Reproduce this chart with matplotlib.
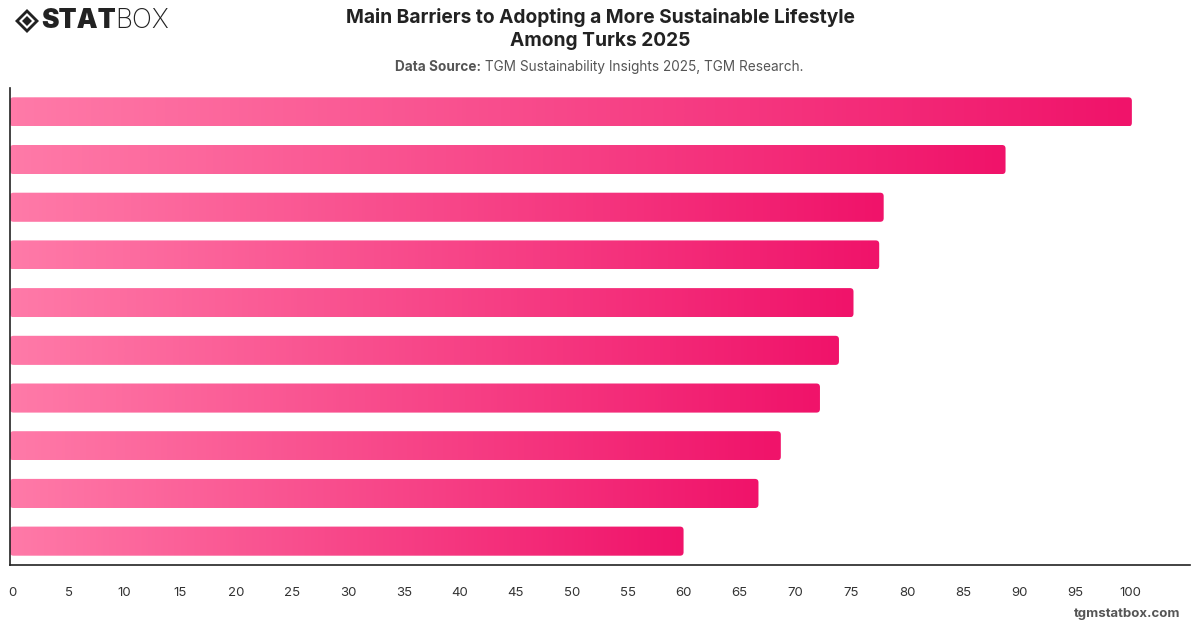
import numpy as np
import matplotlib
matplotlib.use("Agg")
import matplotlib.pyplot as plt
from matplotlib.colors import LinearSegmentedColormap
from matplotlib.patches import FancyBboxPatch, Polygon

plt.rcParams['font.family'] = ['Inter', 'DejaVu Sans']

# values, top to bottom (no category labels are shown)
values = [100.1, 88.8, 77.9, 77.5, 75.2, 73.9, 72.2, 68.7, 66.7, 60.0]
x_ticks = list(range(0, 101, 5))

title = "Main Barriers to Adopting a More Sustainable Lifestyle\nAmong Turks 2025"
source_bold = "Data Source:"
source_text = " TGM Sustainability Insights 2025, TGM Research."
footer = "tgmstatbox.com"

W, H = 1200, 628
fig = plt.figure(figsize=(W / 100, H / 100), dpi=100)
fig.patch.set_facecolor("white")

# axes in pixel space: left 10, right 1190, top 88, bottom 565
ax = fig.add_axes([10 / W, 1 - 565 / H, (1190 - 10) / W, (565 - 88) / H])

n = len(values)
ypos = np.arange(n)[::-1]
bars = ax.barh(ypos, values, height=0.61, color="none", edgecolor="none")

cmap = LinearSegmentedColormap.from_list("pink", ["#ff7aa8", "#f0136a"])
grad = np.linspace(0, 1, 256).reshape(1, -1)

x_min, x_max = -0.25, 105.3
ax.set_xlim(x_min, x_max)
ax.set_ylim(-0.5, n - 0.5)

# px per unit, used to keep the corner rounding round
px_x = (1190 - 10) / (x_max - x_min)
px_y = (565 - 88) / n
for b in bars:
    y0 = b.get_y()
    x1 = b.get_x() + b.get_width()
    h = b.get_height()
    # bars run from the spine, as in the original
    clip = FancyBboxPatch((x_min, y0), x1 - x_min, h,
                          boxstyle="round,pad=0,rounding_size=%f" % (3.5 / px_x),
                          mutation_aspect=px_x / px_y,
                          transform=ax.transData, facecolor="none", edgecolor="none")
    ax.add_patch(clip)
    im = ax.imshow(grad, cmap=cmap, aspect="auto", extent=[x_min, x1, y0, y0 + h],
                   interpolation="bicubic", zorder=2)
    im.set_clip_path(clip)

ax.set_xlim(x_min, x_max)
ax.set_ylim(-0.5, n - 0.5)
ax.set_xticks(x_ticks)
ax.set_xticklabels([str(t) for t in x_ticks], fontsize=9.5, color="#333333")
ax.tick_params(axis="x", length=0, pad=16)
ax.set_yticks([])
for s in ["top", "right"]:
    ax.spines[s].set_visible(False)
for s in ["left", "bottom"]:
    ax.spines[s].set_color("#222222")
    ax.spines[s].set_linewidth(1.2)
    ax.spines[s].set_zorder(3)

# title and source
fig.text(600 / W, 1 - 29 / H, title, ha="center", va="center", fontsize=13.8,
         fontweight="bold", color="#222222", linespacing=1.4)
t1 = fig.text(395 / W, 1 - 67 / H, source_bold, ha="left", va="center", fontsize=9.8,
              fontweight="bold", color="#555555")
fig.canvas.draw()
bb = t1.get_window_extent()
fig.text(bb.x1 / W, 1 - 67 / H, source_text, ha="left", va="center", fontsize=9.8,
         color="#555555")

fig.text(1180 / W, 1 - 614 / H, footer, ha="right", va="center", fontsize=9.5,
         fontweight="bold", color="#555555")

# logo: diamond mark plus STAT/BOX wordmark
lx, ly = 27, 21
outer = Polygon([(lx - 12, ly), (lx, ly - 12), (lx + 12, ly), (lx, ly + 12)], closed=True,
                transform=None, facecolor="#222222", edgecolor="none")
hole = Polygon([(lx - 8, ly), (lx, ly - 8), (lx + 8, ly), (lx, ly + 8)], closed=True,
               transform=None, facecolor="white", edgecolor="none")
inner = Polygon([(lx - 5, ly), (lx, ly - 5), (lx + 5, ly), (lx, ly + 5)], closed=True,
                transform=None, facecolor="#222222", edgecolor="none")
for p in (outer, hole, inner):
    p.set_xy([(x, H - y) for x, y in p.get_xy()])
    fig.add_artist(p)
s1 = fig.text(41 / W, 1 - 21 / H, "STAT", ha="left", va="center", fontsize=19,
              fontweight="black", color="#222222")
fig.canvas.draw()
bb = s1.get_window_extent()
fig.text(bb.x1 / W, 1 - 21 / H, "BOX", ha="left", va="center", fontsize=19,
         fontweight="light", color="#222222")

fig.savefig("out.png", dpi=100, facecolor="white")
